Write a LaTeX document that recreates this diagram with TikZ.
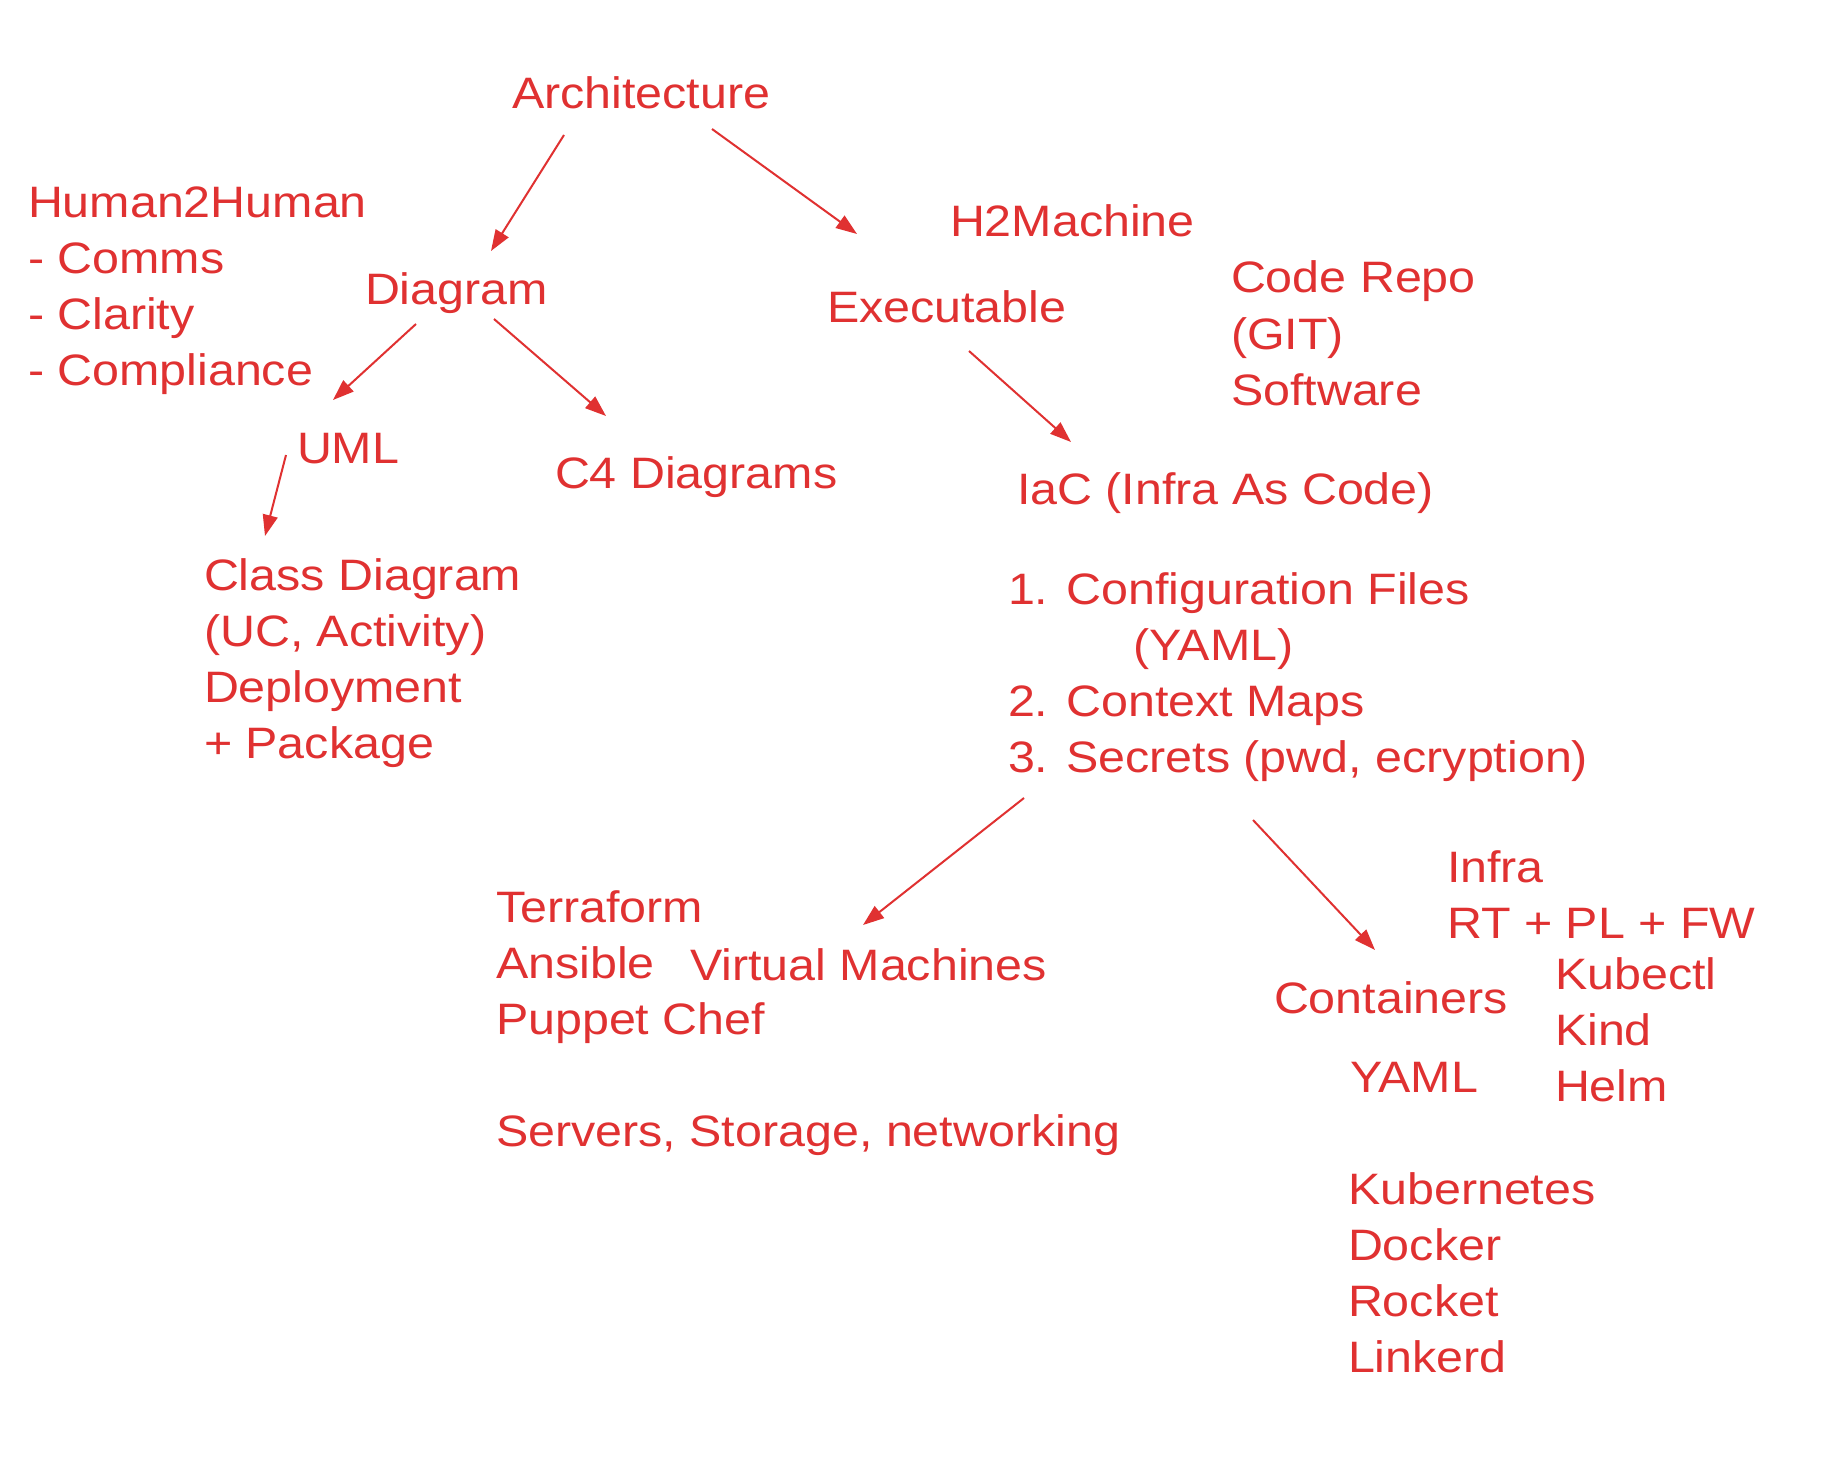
\documentclass[tikz,border=0pt]{standalone}
\usepackage{fontspec}
\setmainfont{Liberation Sans}[FakeStretch=1.10]
\usetikzlibrary{arrows.meta}
\definecolor{exred}{HTML}{E03131}
\newcommand\handfont{\fontsize{44}{56}\selectfont}
\tikzset{
  txt/.style={anchor=base west, inner sep=0pt, outer sep=0pt, text=exred, font=\handfont},
  conn/.style={draw=exred, line width=2pt, -{Triangle[length=21pt,width=15pt]}}
}
\newcommand\lines[1]{\begin{tabular}[t]{@{}l@{}}#1\end{tabular}}
\begin{document}
\begin{tikzpicture}[x=1pt,y=-1pt]
\path[fill=white] (0,0) rectangle (1824,1458);
\useasboundingbox (0,0) rectangle (1824,1458);

\node[txt] (arch) at (512,109) {Architecture};
\node[txt] (h2h) at (28,218) {\lines{Human2Human\\- Comms\\- Clarity\\- Compliance}};
\node[txt] (diag) at (365,305) {Diagram};
\node[txt] (h2m) at (950,237) {H2Machine};
\node[txt] (exec) at (827,323) {Executable};
\node[txt] (repo) at (1231,293) {\lines{Code Repo\\(GIT)\\Software}};
\node[txt] (uml) at (297,463) {UML};
\node[txt] (c4) at (555,488) {C4 Diagrams};
\node[txt] (iac) at (1017,504) {IaC (Infra As Code)};
\node[txt] (class) at (204,590) {\lines{Class Diagram\\(UC, Activity)\\Deployment\\+ Package}};
\node[txt] (cfg) at (1008,604) {\lines{1. Configuration Files\\\hspace*{125pt}(YAML)\\2. Context Maps\\3. Secrets (pwd, ecryption)}};
\node[txt] (tools) at (496,922) {\lines{Terraform\\Ansible\\Puppet Chef\\ \\Servers, Storage, networking}};
\node[txt] (vm) at (690,980) {Virtual Machines};
\node[txt] (infra) at (1447,882) {\lines{Infra\\RT + PL + FW}};
\node[txt] (kube) at (1555,989) {\lines{Kubectl\\Kind\\Helm}};
\node[txt] (cont) at (1274,1013) {Containers};
\node[txt] (yaml) at (1350,1092) {YAML};
\node[txt] (k8s) at (1348,1204) {\lines{Kubernetes\\Docker\\Rocket\\Linkerd}};

\coordinate (archS1) at (564,135);
\coordinate (diagN) at (491,251);
\coordinate (archS2) at (712,129);
\coordinate (execN) at (857,234);
\coordinate (diagS1) at (416,324);
\coordinate (umlN) at (333,400);
\coordinate (diagS2) at (494,319);
\coordinate (c4N) at (606,416);
\coordinate (umlS) at (286,455);
\coordinate (classN) at (265,536);
\coordinate (execS) at (969,351);
\coordinate (iacN) at (1071,442);
\coordinate (cfgS1) at (1024,798);
\coordinate (vmN) at (863,925);
\coordinate (cfgS2) at (1253,820);
\coordinate (contN) at (1375,950);

\draw[conn] (archS1) -- (diagN);
\draw[conn] (archS2) -- (execN);
\draw[conn] (diagS1) -- (umlN);
\draw[conn] (diagS2) -- (c4N);
\draw[conn] (umlS) -- (classN);
\draw[conn] (execS) -- (iacN);
\draw[conn] (cfgS1) -- (vmN);
\draw[conn] (cfgS2) -- (contN);
\end{tikzpicture}
\end{document}
